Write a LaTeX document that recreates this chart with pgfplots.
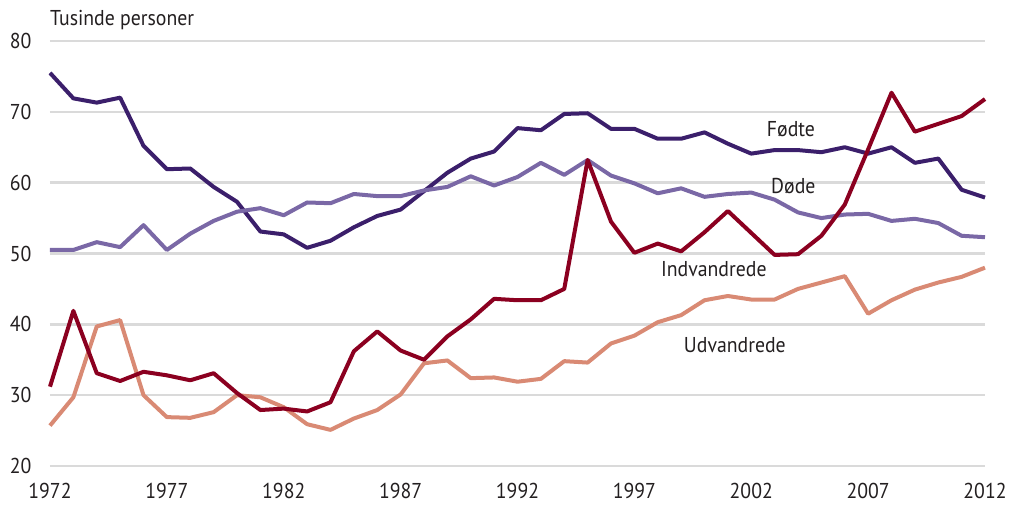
\documentclass[border=0pt]{standalone}
\usepackage{fontspec}
\setmainfont{PT Sans}[FakeStretch=0.92]
\usepackage{pgfplots}
\pgfplotsset{compat=1.18}
\definecolor{foedte}{HTML}{3B1F6B}
\definecolor{doede}{HTML}{7A68A6}
\definecolor{indv}{HTML}{8B0020}
\definecolor{udv}{HTML}{D98A74}
\definecolor{gridc}{HTML}{DADADA}
\definecolor{txt}{HTML}{231F20}
\begin{document}
\begin{tikzpicture}
\begin{axis}[
  name=ax,
  scale only axis,
  width=935pt, height=425pt,
  xmin=1972, xmax=2012, ymin=20, ymax=80,
  axis line style={draw=none},
  xtick={1972,1977,...,2012},
  ytick={20,30,...,80},
  major tick length=0pt,
  ymajorgrids,
  grid style={gridc, line width=2.6pt},
  tick label style={font=\fontsize{21.5}{24}\selectfont, text=txt},
  /pgf/number format/assume math mode=true,
  /pgf/number format/set thousands separator={},
  xticklabel style={yshift=-14pt},
  yticklabel style={xshift=-15pt},
  clip=false,
  every axis plot/.append style={line width=4pt, line join=round},
]
\addplot[foedte] coordinates {
(1972,75.5)(1973,71.9)(1974,71.3)(1975,72.0)(1976,65.2)(1977,61.9)(1978,62.0)(1979,59.4)(1980,57.3)(1981,53.1)
(1982,52.7)(1983,50.8)(1984,51.8)(1985,53.7)(1986,55.3)(1987,56.2)(1988,58.8)(1989,61.4)(1990,63.4)(1991,64.4)
(1992,67.7)(1993,67.4)(1994,69.7)(1995,69.8)(1996,67.6)(1997,67.6)(1998,66.2)(1999,66.2)(2000,67.1)(2001,65.5)
(2002,64.1)(2003,64.6)(2004,64.6)(2005,64.3)(2006,65.0)(2007,64.1)(2008,65.0)(2009,62.8)(2010,63.4)(2011,59.0)(2012,57.9)};
\addplot[doede] coordinates {
(1972,50.5)(1973,50.5)(1974,51.6)(1975,50.9)(1976,54.0)(1977,50.5)(1978,52.8)(1979,54.6)(1980,55.9)(1981,56.4)
(1982,55.4)(1983,57.2)(1984,57.1)(1985,58.4)(1986,58.1)(1987,58.1)(1988,58.9)(1989,59.4)(1990,60.9)(1991,59.6)
(1992,60.8)(1993,62.8)(1994,61.1)(1995,63.2)(1996,61.0)(1997,59.9)(1998,58.5)(1999,59.2)(2000,58.0)(2001,58.4)
(2002,58.6)(2003,57.6)(2004,55.8)(2005,55.0)(2006,55.5)(2007,55.6)(2008,54.6)(2009,54.9)(2010,54.3)(2011,52.5)(2012,52.3)};
\addplot[udv] coordinates {
(1972,25.7)(1973,29.7)(1974,39.7)(1975,40.6)(1976,30.0)(1977,26.9)(1978,26.8)(1979,27.6)(1980,30.0)(1981,29.7)
(1982,28.3)(1983,25.9)(1984,25.1)(1985,26.7)(1986,27.9)(1987,30.1)(1988,34.5)(1989,34.9)(1990,32.4)(1991,32.5)
(1992,31.9)(1993,32.3)(1994,34.8)(1995,34.6)(1996,37.3)(1997,38.4)(1998,40.3)(1999,41.3)(2000,43.4)(2001,44.0)
(2002,43.5)(2003,43.5)(2004,45.0)(2005,45.9)(2006,46.8)(2007,41.5)(2008,43.4)(2009,44.9)(2010,45.9)(2011,46.7)(2012,48.0)};
\addplot[indv] coordinates {
(1972,31.2)(1973,41.9)(1974,33.1)(1975,32.0)(1976,33.3)(1977,32.8)(1978,32.1)(1979,33.1)(1980,30.3)(1981,27.9)
(1982,28.1)(1983,27.7)(1984,29.0)(1985,36.2)(1986,39.0)(1987,36.3)(1988,35.0)(1989,38.3)(1990,40.7)(1991,43.6)
(1992,43.4)(1993,43.4)(1994,45.0)(1995,63.2)(1996,54.5)(1997,50.1)(1998,51.4)(1999,50.3)(2000,53.0)(2001,56.0)
(2002,52.9)(2003,49.8)(2004,49.9)(2005,52.5)(2006,56.9)(2007,64.7)(2008,72.7)(2009,67.2)(2010,68.3)(2011,69.4)(2012,71.8)};
\node[font=\fontsize{21.5}{24}\selectfont, text=txt] at (axis cs:2003.7,67.6) {Fødte};
\node[font=\fontsize{21.5}{24}\selectfont, text=txt] at (axis cs:2003.8,59.5) {Døde};
\node[font=\fontsize{21.5}{24}\selectfont, text=txt] at (axis cs:2000.4,47.8) {Indvandrede};
\node[font=\fontsize{21.5}{24}\selectfont, text=txt] at (axis cs:2001.3,37.1) {Udvandrede};
\node[font=\fontsize{21.5}{24}\selectfont, text=txt, anchor=west, inner sep=0pt] at (axis cs:1972,83.0) {Tusinde personer};
\end{axis}
\path ([xshift=-50pt,yshift=-39pt]ax.south west) rectangle ([xshift=38pt,yshift=41pt]ax.north east);
\end{tikzpicture}
\end{document}
